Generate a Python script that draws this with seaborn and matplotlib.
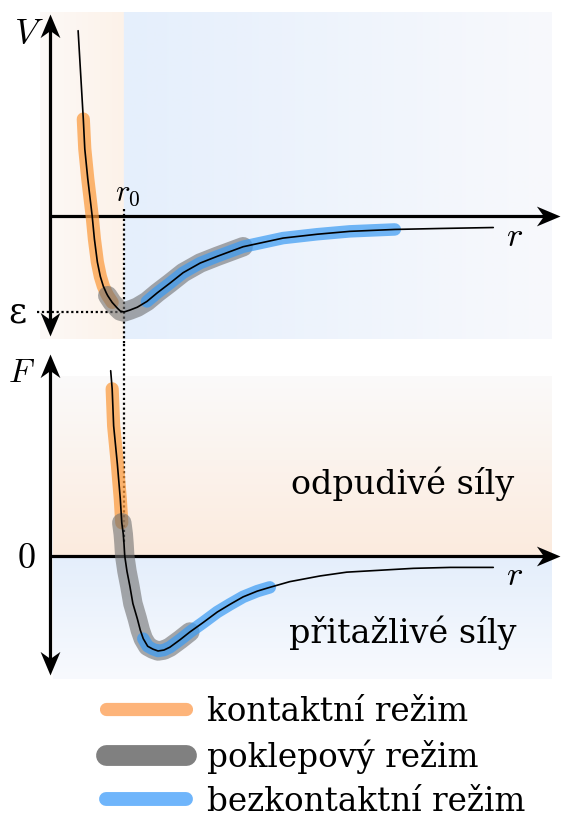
import numpy as np
import matplotlib
matplotlib.use("Agg")
import matplotlib.pyplot as plt
from matplotlib.path import Path
from matplotlib.lines import Line2D
import seaborn as sns

# ---------------- data ----------------
# potential V(r): r in units of r0, V in units of epsilon
r_V = [0.38, 0.45, 0.47, 0.51, 0.57, 0.60, 0.64, 0.68, 0.72, 0.76, 0.78, 0.84, 0.91, 0.95,
       1.00, 1.08, 1.18, 1.31, 1.45, 1.62, 1.80, 2.03, 2.26, 2.61, 3.15, 3.61,
       4.05, 4.66, 5.27, 5.99]
V = [1.93, 1.01, 0.70, 0.39, 0.00, -0.24, -0.48, -0.63, -0.73, -0.80, -0.83, -0.90, -0.96, -0.99,
     -1.00, -0.98, -0.95, -0.89, -0.80, -0.70, -0.59, -0.49, -0.42, -0.32, -0.23, -0.19,
     -0.16, -0.14, -0.13, -0.12]

# force F(r)
r_F = [0.82, 0.84, 0.86, 0.91, 0.95, 0.97, 0.99, 1.00, 1.01, 1.04, 1.08, 1.12,
       1.18, 1.22, 1.26, 1.32, 1.39, 1.46, 1.54, 1.62, 1.76, 1.89, 2.07, 2.26, 2.43,
       2.61, 2.80, 2.97, 3.24, 3.65, 4.01, 4.46, 4.91, 5.41, 5.99]
F = [1.95, 1.76, 1.37, 0.97, 0.60, 0.35, 0.23, 0.13, 0.00, -0.16, -0.32, -0.50,
     -0.66, -0.78, -0.87, -0.95, -0.98, -1.00, -0.99, -0.96, -0.88, -0.80, -0.70, -0.59, -0.51,
     -0.43, -0.37, -0.33, -0.27, -0.21, -0.17, -0.15, -0.13, -0.12, -0.12]

modes = ["kontaktní režim", "poklepový režim", "bezkontaktní režim"]
V_ranges = [(0.45, 0.84), (0.78, 2.61), (1.31, 4.66)]
F_ranges = [(0.84, 0.97), (0.97, 1.89), (1.26, 2.97)]

# ---------------- style ----------------
sns.set_style("white")
plt.rcParams["font.family"] = ["DejaVu Serif", "DejaVu Sans"]
plt.rcParams["mathtext.fontset"] = "cm"
plt.rcParams["text.color"] = "black"

W, H = 562, 820
PX_R = 74.0      # pixels per r unit
PX_V = 96.0
PX_F = 95.0

mode_colors = ["#fb9a3c", "#707070", "#3d9cf3"]
mode_alpha = [0.72, 0.6, 0.72]
mode_lw = [9.5, 14.0, 9.0]
mode_z = [3, 4, 5]
legend_colors = ["#fdb47a", "#808080", "#6fb5fb"]
legend_lw = [9.5, 15.0, 10.0]

fig = plt.figure(figsize=(W / 100, H / 100), dpi=100)
ax1 = fig.add_axes([0, 1 - 345 / H, 1, 345 / H])
ax2 = fig.add_axes([0, 1 - 690 / H, 1, 345 / H])

xlim = (-50 / PX_R, 512 / PX_R)
ylim1 = ((217 - 345) / PX_V, 217 / PX_V)
ylim2 = ((557 - 690) / PX_F, (557 - 345) / PX_F)


def px_x(x):
    return (x - 50) / PX_R


# ---------------- backgrounds ----------------
xs = np.arange(40, 553)
col = np.zeros((1, len(xs), 3))
for i, x in enumerate(xs):
    if x < 124:
        t = (x - 40) / 84
        c0, c1 = np.array([252, 249, 247]), np.array([253, 242, 233])
    else:
        t = (x - 124) / 428
        c0, c1 = np.array([229, 239, 252]), np.array([248, 249, 252])
    col[0, i] = (c0 + (c1 - c0) * t) / 255
ax1.imshow(col, extent=[px_x(40), px_x(552), (217 - 340) / PX_V, (217 - 13) / PX_V],
           aspect="auto", zorder=0, interpolation="bilinear")

ys = np.arange(377, 681)
colv = np.zeros((len(ys), 1, 3))
for i, y in enumerate(ys):
    if y < 557:
        t = (y - 377) / 180
        c0, c1 = np.array([250, 250, 250]), np.array([252, 235, 222])
    else:
        t = (y - 557) / 123
        c0, c1 = np.array([228, 238, 251]), np.array([248, 250, 254])
    colv[i, 0] = (c0 + (c1 - c0) * t) / 255
ax2.imshow(colv, extent=[px_x(53), px_x(552), (557 - 680) / PX_F, (557 - 377) / PX_F],
           aspect="auto", zorder=0, interpolation="bilinear")


# ---------------- axes with stealth arrows ----------------
def stealth(direction):
    v = np.array([[0, 0], [-1, 0.42], [-0.7, 0], [-1, -0.42], [0, 0]], float)
    ang = {"right": 0, "up": 90, "down": -90}[direction]
    a = np.deg2rad(ang)
    R = np.array([[np.cos(a), -np.sin(a)], [np.sin(a), np.cos(a)]])
    v = v @ R.T
    return Path(v, [Path.MOVETO, Path.LINETO, Path.LINETO, Path.LINETO, Path.CLOSEPOLY])


def arrow_axis(ax, p0, p1, heads):
    ax.plot([p0[0], p1[0]], [p0[1], p1[1]], color="k", lw=2.3, zorder=2,
            solid_capstyle="butt", clip_on=False)
    for (x, y), d in heads:
        ax.plot([x], [y], marker=stealth(d), markersize=34, color="k",
                markeredgewidth=0, zorder=2, clip_on=False)


# top panel axes
arrow_axis(ax1, (0, (217 - 327) / PX_V), (0, (217 - 25) / PX_V),
           [((0, (217 - 15) / PX_V), "up"), ((0, (217 - 337) / PX_V), "down")])
arrow_axis(ax1, (0, 0), (px_x(550), 0), [((px_x(560), 0), "right")])
# bottom panel axes
arrow_axis(ax2, (0, (557 - 665) / PX_F), (0, (557 - 365) / PX_F),
           [((0, (557 - 355) / PX_F), "up"), ((0, (557 - 676) / PX_F), "down")])
arrow_axis(ax2, (0, 0), (px_x(550), 0), [((px_x(560), 0), "right")])

# dotted reference lines (r0 and epsilon)
dot = dict(color="k", lw=1.6, linestyle=(0, (1, 1.2)), zorder=2.5, clip_on=False)
ax1.plot([1.0, 1.0], [0.07, ylim1[0]], **dot)
ax1.plot([px_x(37), 1.0], [-1.0, -1.0], **dot)
ax2.plot([1.0, 1.0], [ylim2[1], 0.13], **dot)

# ---------------- curves ----------------
rV, Vv = np.array(r_V), np.array(V)
rF, Fv = np.array(r_F), np.array(F)

for i, m in enumerate(modes):
    lo, hi = V_ranges[i]
    mk = (rV >= lo - 1e-9) & (rV <= hi + 1e-9)
    sns.lineplot(x=rV[mk], y=Vv[mk], ax=ax1, color=mode_colors[i], alpha=mode_alpha[i],
                 linewidth=mode_lw[i], sort=False, estimator=None, zorder=mode_z[i],
                 solid_capstyle="round", solid_joinstyle="round")
    lo, hi = F_ranges[i]
    mk = (rF >= lo - 1e-9) & (rF <= hi + 1e-9)
    sns.lineplot(x=rF[mk], y=Fv[mk], ax=ax2, color=mode_colors[i], alpha=mode_alpha[i],
                 linewidth=mode_lw[i], sort=False, estimator=None, zorder=mode_z[i],
                 solid_capstyle="round", solid_joinstyle="round")

sns.lineplot(x=rV, y=Vv, ax=ax1, color="k", linewidth=1.2, sort=False, estimator=None, zorder=6)
sns.lineplot(x=rF, y=Fv, ax=ax2, color="k", linewidth=1.2, sort=False, estimator=None, zorder=6)

for ax, yl in ((ax1, ylim1), (ax2, ylim2)):
    ax.set_xlim(*xlim)
    ax.set_ylim(*yl)
    ax.set_axis_off()


# ---------------- texts ----------------
def ftext(x, y, s, size, **kw):
    fig.text(x / W, 1 - y / H, s, fontsize=size, ha="center", va="center",
             color="black", **kw)


ftext(29, 34, r"$V$", 26)
ftext(17, 313, "ε", 25, family=["DejaVu Serif"])
ftext(128, 192, r"$r_{0}$", 22)
ftext(515, 236, r"$r$", 25)
ftext(21, 373, r"$F$", 24)
ftext(26, 558, r"$0$", 26)
ftext(515, 575, r"$r$", 25)
ftext(403, 484, "odpudivé síly", 24)
ftext(403, 633, "přitažlivé síly", 24)

# ---------------- legend ----------------
handles = [Line2D([0], [0], color=legend_colors[i], lw=legend_lw[i], solid_capstyle="round")
           for i in range(3)]
leg = fig.legend(handles, modes, loc="center left", bbox_to_anchor=(106 / W, 1 - 757 / H),
                 frameon=False, prop={"family": "DejaVu Serif", "size": 23.5},
                 handlelength=2.45, handletextpad=0.65, labelspacing=0.36,
                 borderpad=0, borderaxespad=0)
for t in leg.get_texts():
    t.set_color("black")

fig.savefig("out.png", dpi=100)
